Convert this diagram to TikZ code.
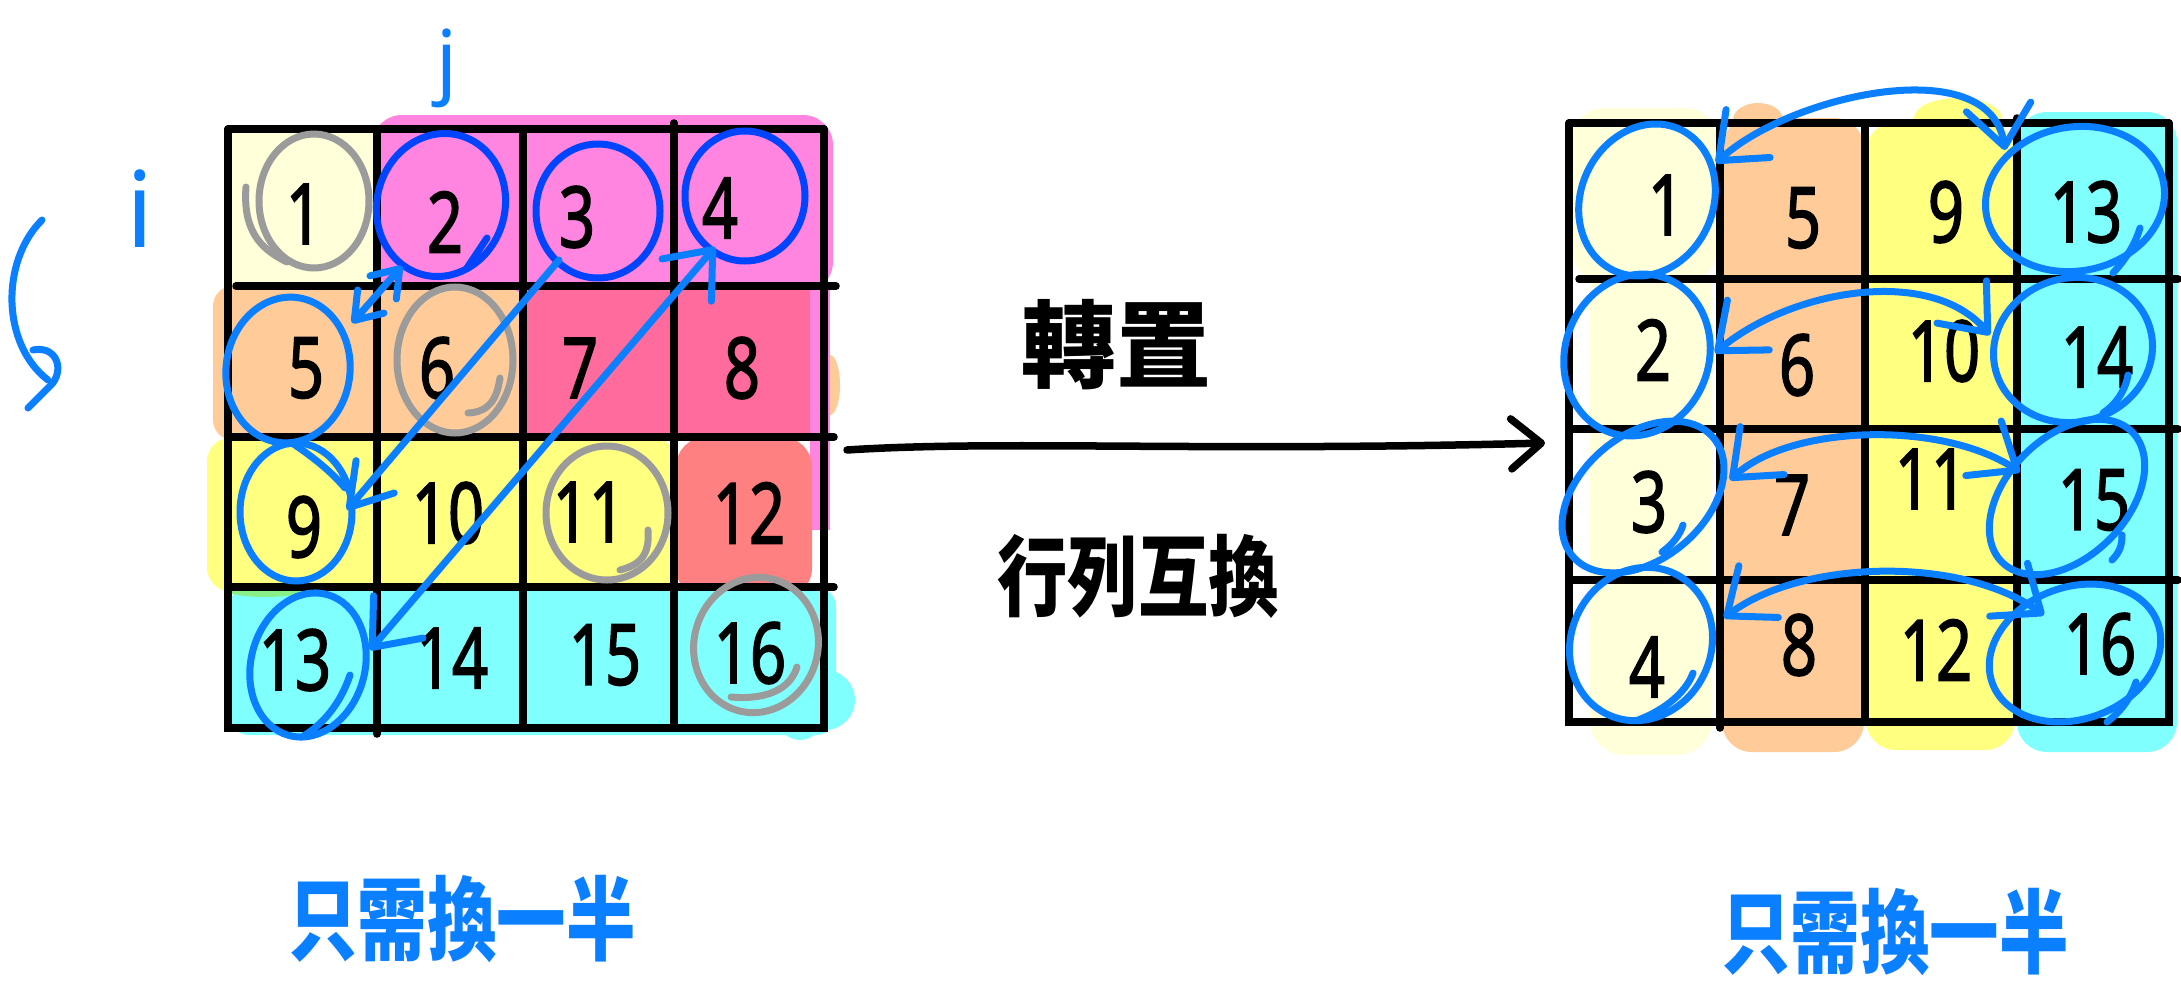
\documentclass[tikz,border=0pt]{standalone}
\usepackage{fontspec}
\setmainfont{Noto Sans}
\newfontfamily\numfont{Noto Sans}[FakeBold=2]
\newfontfamily\cjk{Noto Sans CJK TC}
\usetikzlibrary{arrows.meta}
\definecolor{lyel}{HTML}{FFFFD9}
\definecolor{pinkA}{HTML}{FF85E0}
\definecolor{peach}{HTML}{FFCC99}
\definecolor{hpink}{HTML}{FF6B9C}
\definecolor{yel}{HTML}{FFFF80}
\definecolor{salmon}{HTML}{FF8080}
\definecolor{cyanA}{HTML}{80FFFF}
\definecolor{blueA}{HTML}{0A7FFF}
\definecolor{blueD}{HTML}{0044FF}
\definecolor{grayA}{HTML}{9B9B9B}
\definecolor{greenA}{HTML}{88F088}
\newcommand\hnum[1]{\scalebox{0.75}[1]{#1}}
\tikzset{
  gl/.style={line width=0.075cm, line cap=round},
  num/.style={font=\numfont\fontsize{24}{24}\selectfont, inner sep=0pt},
  bc/.style={draw=blueA, line width=0.07cm, line cap=round, line join=round},
  dc/.style={draw=blueD, line width=0.07cm, line cap=round},
  gc/.style={draw=grayA, line width=0.07cm, line cap=round},
  dblbig/.style={{Straight Barb[round,length=0.4cm,width=0.65cm]}-{Straight Barb[round,length=0.4cm,width=0.65cm]}},
  dblsmall/.style={{Straight Barb[round,length=0.25cm,width=0.35cm]}-{Straight Barb[round,length=0.25cm,width=0.35cm]}},
  onehead/.style={-{Straight Barb[round,length=0.4cm,width=0.5cm]}},
  cjkbig/.style={font={\cjk\bfseries\fontsize{27}{27}\selectfont}, inner sep=0pt},
  cjkmid/.style={font={\cjk\bfseries\fontsize{25}{25}\selectfont}, inner sep=0pt},
  cjkblue/.style={font={\cjk\bfseries\fontsize{26}{26}\selectfont}, inner sep=0pt, text=blueA},
}
\begin{document}
\begin{tikzpicture}[x=0.01cm,y=-0.01cm]
\useasboundingbox (0,0) rectangle (2181,1000);
\fill[white] (0,0) rectangle (2181,1000);

% ---------- left backgrounds ----------
\fill[pinkA, rounded corners=0.3cm] (372,115) rectangle (833,292);
\fill[lyel] (230,131) rectangle (377,286);
\fill[peach, rounded corners=0.2cm] (213,286) rectangle (523,440);
\fill[peach] (830,385) ellipse [x radius=10, y radius=30];
\fill[hpink] (523,288) rectangle (812,437);
\fill[pinkA] (810,286) rectangle (830,530);
\fill[yel, rounded corners=0.25cm] (207,437) rectangle (676,592);
\fill[salmon, rounded corners=0.3cm] (676,437) rectangle (812,598);
\fill[cyanA, rounded corners=0.2cm] (229,587) rectangle (836,735);
\fill[cyanA] (825,700) circle [radius=30];
\fill[cyanA] (800,718) circle [radius=22];
\fill[greenA] (265,591) ellipse [x radius=37, y radius=6];

% ---------- right backgrounds ----------
\fill[lyel, rounded corners=0.3cm] (1573,108) rectangle (1716,282);
\fill[lyel, rounded corners=0.35cm] (1590,260) rectangle (1712,755);
\fill[peach, rounded corners=0.3cm] (1722,118) rectangle (1864,752);
\fill[peach] (1758,120) ellipse [x radius=25, y radius=17];
\fill[yel, rounded corners=0.3cm] (1866,122) rectangle (2015,750);
\fill[yel] (1958,118) ellipse [x radius=44, y radius=20];
\fill[cyanA, rounded corners=0.3cm] (2017,112) rectangle (2177,752);

% ---------- left grid ----------
\draw[gl] (228,129) -- (824,129);
\draw[gl] (228,129) -- (228,728) -- (824,728) -- (824,129);
\draw[gl] (236,286) -- (836,286);
\draw[gl] (228,437) -- (834,437);
\draw[gl] (228,587) -- (834,587);
\draw[gl] (377,129) -- (377,734);
\draw[gl] (523,129) -- (523,728);
\draw[gl] (674,123) -- (674,728);

% ---------- right grid ----------
\draw[gl] (1569,123) -- (2169,123);
\draw[gl] (1569,123) -- (1569,722) -- (2169,722) -- (2169,123);
\draw[gl] (1579,279) -- (2178,279);
\draw[gl] (1569,429) -- (2178,429);
\draw[gl] (1569,580) -- (2178,580);
\draw[gl] (1720,123) -- (1720,728);
\draw[gl] (1865,123) -- (1865,722);
\draw[gl] (2017,118) -- (2017,722);

% ---------- left numbers ----------
\node[num] (L1) at (304,214) {\hnum{1}};
\node[num] (L2) at (445,222) {\hnum{2}};
\node[num] (L3) at (577,217) {\hnum{3}};
\node[num] (L4) at (720,208) {\hnum{4}};
\node[num] (L5) at (306,368) {\hnum{5}};
\node[num] (L6) at (437,368) {\hnum{6}};
\node[num] (L7) at (580,368) {\hnum{7}};
\node[num] (L8) at (742,368) {\hnum{8}};
\node[num] (L9) at (304,527) {\hnum{9}};
\node[num] (L10) at (448,513) {\hnum{10}};
\node[num] (L11) at (589,512) {\hnum{11}};
\node[num] (L12) at (749,513) {\hnum{12}};
\node[num] (L13) at (295,660) {\hnum{13}};
\node[num] (L14) at (452,658) {\hnum{14}};
\node[num] (L15) at (605,655) {\hnum{15}};
\node[num] (L16) at (750,653) {\hnum{16}};

% ---------- right numbers ----------
\node[num] (R1) at (1666,205) {\hnum{1}};
\node[num] (R5) at (1803,218) {\hnum{5}};
\node[num] (R9) at (1946,212) {\hnum{9}};
\node[num] (R13) at (2086,212) {\hnum{13}};
\node[num] (R2) at (1653,350) {\hnum{2}};
\node[num] (R6) at (1797,365) {\hnum{6}};
\node[num] (R10) at (1944,351) {\hnum{10}};
\node[num] (R14) at (2097,357) {\hnum{14}};
\node[num] (R3) at (1649,502) {\hnum{3}};
\node[num] (R7) at (1792,505) {\hnum{7}};
\node[num] (R11) at (1931,479) {\hnum{11}};
\node[num] (R15) at (2094,500) {\hnum{15}};
\node[num] (R4) at (1647,667) {\hnum{4}};
\node[num] (R8) at (1799,645) {\hnum{8}};
\node[num] (R12) at (1936,650) {\hnum{12}};
\node[num] (R16) at (2100,644) {\hnum{16}};

% ---------- left circles ----------
\draw[gc] (314,201) ellipse [x radius=55, y radius=67];
\draw[gc] (246,187) .. controls (243,228) and (258,248) .. (287,262);
\draw[dc, rotate around={-15:(441,205)}] (441,205) ellipse [x radius=64, y radius=72];
\draw[dc] (487,238) -- (467,268);
\draw[dc] (598,211) ellipse [x radius=62, y radius=67];
\draw[dc] (745,196) ellipse [x radius=60, y radius=65];
\draw[bc, rotate around={-7:(288,370)}] (288,370) ellipse [x radius=62, y radius=73];
\draw[gc] (455,360) ellipse [x radius=58, y radius=73];
\draw[gc] (468,413) .. controls (490,412) and (497,398) .. (500,378);
\draw[bc] (296,512) ellipse [x radius=56, y radius=69];
\draw[bc] (292,443) .. controls (310,455) and (330,470) .. (345,488);
\draw[gc] (607,513) ellipse [x radius=61, y radius=67];
\draw[gc] (648,530) .. controls (650,555) and (640,565) .. (620,570);
\draw[bc, rotate around={-15:(308,665)}] (308,665) ellipse [x radius=57, y radius=73];
\draw[bc] (350,675) .. controls (340,705) and (322,725) .. (302,737);
\draw[gc, rotate around={-15:(756,645)}] (756,645) ellipse [x radius=62, y radius=68];
\draw[gc] (797,667) .. controls (790,690) and (765,700) .. (731,697);

% ---------- right circles ----------
\draw[bc, rotate around={-25:(1647,200)}] (1647,200) ellipse [x radius=66, y radius=78];
\draw[bc, rotate around={10:(2075,199)}] (2075,199) ellipse [x radius=90, y radius=72];
\draw[bc, rotate around={-20:(1637,355)}] (1637,355) ellipse [x radius=72, y radius=82];
\draw[bc, rotate around={15:(2073,350)}] (2073,350) ellipse [x radius=80, y radius=72];
\draw[bc, rotate around={40:(1643,497)}] (1643,497) ellipse [x radius=92, y radius=62];
\draw[bc, rotate around={45:(2067,497)}] (2067,497) ellipse [x radius=92, y radius=60];
\draw[bc, rotate around={-25:(1641,644)}] (1641,644) ellipse [x radius=70, y radius=78];
\draw[bc, rotate around={20:(2075,653)}] (2075,653) ellipse [x radius=88, y radius=66];
\draw[bc] (2140,228) .. controls (2135,245) and (2125,260) .. (2113,273);
\draw[bc] (2128,375) .. controls (2125,392) and (2115,405) .. (2103,413);
\draw[bc] (2122,535) .. controls (2122,545) and (2120,552) .. (2112,560);
\draw[bc] (2136,682) .. controls (2130,700) and (2120,712) .. (2107,722);
\draw[bc] (1683,525) .. controls (1680,535) and (1672,545) .. (1662,552);
\draw[bc] (1693,673) .. controls (1685,695) and (1660,712) .. (1638,720);

% ---------- left connectors ----------
\coordinate (p2) at (402,266);
\coordinate (p5) at (352,323);
\coordinate (p3) at (559,260);
\coordinate (p9) at (347,510);
\coordinate (p4) at (715,247);
\coordinate (p13) at (370,650);
\draw[bc, dblsmall] (p2) -- (p5);
\draw[bc, onehead] (p3) -- (p9);
\draw[bc, dblbig] (p4) -- (p13);

% ---------- right connectors ----------
\coordinate (q1) at (1716,163);
\coordinate (q13) at (2005,150);
\coordinate (q2) at (1715,353);
\coordinate (q14) at (1990,335);
\coordinate (q3) at (1730,480);
\coordinate (q15) at (2020,472);
\coordinate (q4) at (1724,618);
\coordinate (q16) at (2044,615);
\draw[bc, dblbig] (q1) .. controls (1790,95) and (1990,50) .. (q13);
\draw[bc, dblbig] (q2) .. controls (1790,290) and (1930,265) .. (q14);
\draw[bc, dblbig] (q3) .. controls (1790,425) and (1940,420) .. (q15);
\draw[bc, dblbig] (q4) .. controls (1800,560) and (1960,555) .. (q16);

% ---------- main arrow and labels ----------
\coordinate (m1) at (847,450);
\coordinate (m2) at (1545,443);
\draw[line width=0.075cm, line cap=round, -{Straight Barb[round,length=0.3cm,width=0.5cm]}] (m1) .. controls (1000,440) and (1200,452) .. (m2);
\node[cjkbig] (t1) at (1116,345) {轉置};
\node[cjkmid] (t2) at (1138,576) {\scalebox{0.8}[1]{行列互換}};
\node[cjkblue] (b1) at (462,919) {\scalebox{0.76}[1]{只需換一半}};
\node[cjkblue] (b2) at (1895,932) {\scalebox{0.76}[1]{只需換一半}};

% ---------- i, j ----------
\node[text=blueA, font=\fontsize{23}{23}\selectfont, inner sep=0pt, anchor=base] (jl) at (447,88) {j};
\node[text=blueA, font=\fontsize{30}{30}\selectfont, inner sep=0pt, anchor=base] (il) at (140,247) {i};
\draw[bc] (42,220) .. controls (0,262) and (2,345) .. (48,380);
\draw[bc] (33,350) .. controls (58,345) and (65,372) .. (50,386) -- (28,408);
\end{tikzpicture}
\end{document}
